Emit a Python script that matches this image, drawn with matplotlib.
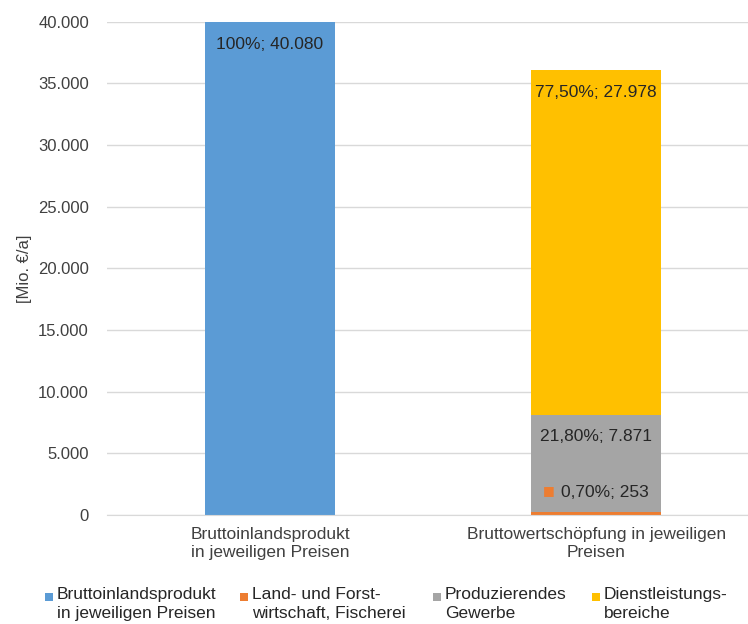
import matplotlib
matplotlib.use("Agg")
import matplotlib.pyplot as plt
from matplotlib.patches import Rectangle
from matplotlib.ticker import FuncFormatter

plt.rcParams['font.family'] = ['Liberation Sans', 'DejaVu Sans']

categories = ["Bruttoinlandsprodukt\nin jeweiligen Preisen",
              "Bruttowertschöpfung in jeweiligen\nPreisen"]
series_names = ["Bruttoinlandsprodukt\nin jeweiligen Preisen",
                "Land- und Forst-\nwirtschaft, Fischerei",
                "Produzierendes\nGewerbe",
                "Dienstleistungs-\nbereiche"]
# values per series for the two categories
bip = [40080, 0]
landwirtschaft = [0, 253]
produzierend = [0, 7871]
dienstleistung = [0, 27978]
labels_bip = ["100%; 40.080", ""]
labels_land = ["", "0,70%; 253"]
labels_prod = ["", "21,80%; 7.871"]
labels_dienst = ["", "77,50%; 27.978"]

colors = ["#5B9BD5", "#ED7D31", "#A5A5A5", "#FFC000"]
txt = '#262626'

fig = plt.figure(figsize=(7.48, 6.24), dpi=100)
ax = fig.add_axes([0.143, 0.175, 0.872, 0.79])

x = [0, 1]
w = 0.4
series = [bip, landwirtschaft, produzierend, dienstleistung]
bottoms = [0, 0]
bars = []
for vals, c, name in zip(series, colors, series_names):
    b = ax.bar(x, vals, w, bottom=bottoms, color=c, label=name, zorder=2)
    bars.append((b, list(bottoms), vals))
    bottoms = [bo + v for bo, v in zip(bottoms, vals)]

ax.set_ylim(0, 40000)
ax.set_xlim(-0.5, 1.5)
ax.set_yticks(range(0, 40001, 5000))
ax.yaxis.set_major_formatter(FuncFormatter(lambda v, p: f"{int(v):,}".replace(",", ".")))
ax.grid(axis='y', color='#D9D9D9', linewidth=1, zorder=0)
for s in ['top', 'right', 'left']:
    ax.spines[s].set_visible(False)
ax.spines['bottom'].set_color('#D9D9D9')
ax.tick_params(axis='y', length=0, pad=13, labelsize=12, colors='#404040')
ax.tick_params(axis='x', length=0, pad=9, labelsize=12.5, colors='#404040')
ax.set_xticks(x)
ax.set_xticklabels(categories, linespacing=1.25)
ax.set_ylabel("[Mio. €/a]", fontsize=12, color='#404040')
ax.yaxis.set_label_coords(-0.115, 0.5)

# data labels
lab_sets = [labels_bip, labels_land, labels_prod, labels_dienst]
for (b, bot, vals), labs in zip(bars, lab_sets):
    for i, (lab, bo, v) in enumerate(zip(labs, bot, vals)):
        if not lab:
            continue
        top = min(bo + v, 40000)
        if v < 1000:
            ax.annotate(lab, (x[i], top), xytext=(6.5, 14), textcoords='offset points',
                        ha='center', va='center', fontsize=12.5, color=txt)
            ax.annotate("■", (x[i], top), xytext=(-34, 15), textcoords='offset points',
                        ha='center', va='center', fontsize=9, color=colors[1],
                        family='DejaVu Sans')
        else:
            ax.annotate(lab, (x[i], top), xytext=(0, -16), textcoords='offset points',
                        ha='center', va='center', fontsize=12.5, color=txt)

# legend, drawn by hand so the key sits on the first line of each label
leg_x = [45, 240, 433, 592]
for lx, c, name in zip(leg_x, colors, series_names):
    fig.add_artist(Rectangle(((lx) / 748, 1 - 601 / 624), 8 / 748, 8 / 624,
                             transform=fig.transFigure, color=c, lw=0))
    fig.text((lx + 12) / 748, 1 - 587 / 624, name, ha='left', va='top',
             fontsize=12.5, color=txt, linespacing=1.3)

fig.savefig("out.png", dpi=100)
